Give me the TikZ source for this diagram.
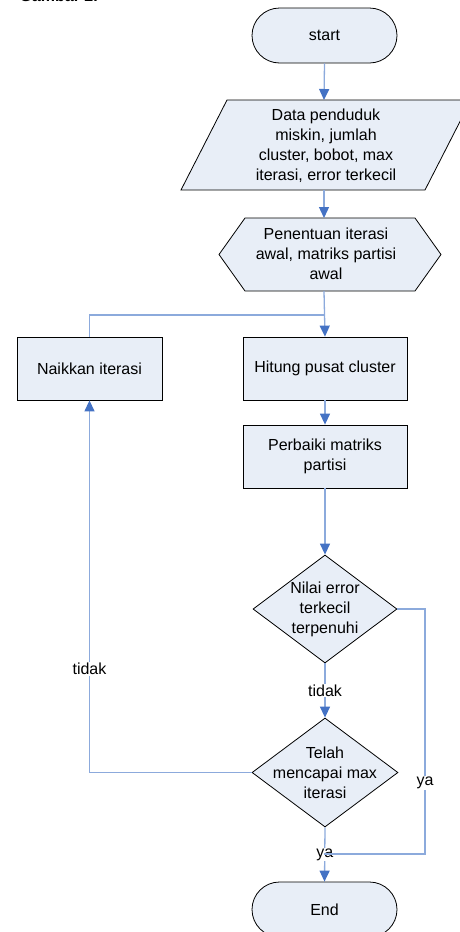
\documentclass[tikz,border=0pt]{standalone}
\usepackage{fontspec}
\setmainfont{Liberation Sans}
\usetikzlibrary{arrows.meta,shapes.misc,shapes.geometric}
\definecolor{boxfill}{RGB}{232,238,247}
\definecolor{lineblue}{RGB}{140,170,220}
\definecolor{tipblue}{RGB}{68,114,196}
\tikzset{
  txt/.style={font=\fontsize{16pt}{20pt}\selectfont, align=center, inner sep=0pt},
  term/.style={rounded rectangle, draw=black, fill=boxfill, line width=0.8pt, minimum width=145pt, minimum height=55pt, txt},
  proc/.style={rectangle, draw=black, fill=boxfill, line width=0.8pt, minimum height=63pt, txt},
  dia/.style={diamond, draw=black, fill=boxfill, line width=0.8pt, inner sep=0pt},
  shapeline/.style={draw=black, fill=boxfill, line width=0.8pt, line join=miter},
  conn/.style={draw=lineblue, line width=1.3pt},
  arr/.style={conn, -{Triangle[width=10pt,length=11pt,color=tipblue]}},
  lab/.style={txt, fill=white, inner sep=1pt}
}
\begin{document}
\begin{tikzpicture}[x=1pt,y=-1pt]
\useasboundingbox (0,0) rectangle (459,932);
% clipped caption fragment at the top edge
\node[anchor=base east, font=\bfseries\fontsize{16pt}{20pt}\selectfont, inner sep=0pt] (cap) at (98,1.5) {Gambar 2.};
% start
\node[term] (start) at (324.5,35.5) {start};
% data parallelogram
\draw[shapeline] (181,190) -- (227,100) -- (471,100) -- (425,190) -- cycle;
\node[txt] (data) at (326,146) {Data penduduk\\miskin, jumlah\\cluster, bobot, max\\iterasi, error terkecil};
\coordinate (datatop) at (324,100);
\coordinate (databot) at (324,190);
% hexagon
\draw[shapeline] (219,254.5) -- (245,218) -- (415,218) -- (441,254.5) -- (415,291) -- (245,291) -- cycle;
\node[txt] (init) at (326,254) {Penentuan iterasi\\awal, matriks partisi\\awal};
\coordinate (inittop) at (324,218);
\coordinate (initbot) at (324,291);
% process boxes
\node[proc, minimum width=145pt] (naik) at (89.5,368.5) {Naikkan iterasi};
\node[proc, minimum width=164pt] (hitung) at (325,368.5) {Hitung pusat cluster};
\node[proc, minimum width=164pt] (perbaiki) at (325,456.5) {Perbaiki matriks\\partisi};
% decisions
\node[dia, minimum width=144pt, minimum height=108pt] (d1) at (325,609) {};
\node[txt] (d1t) at (d1) {Nilai error\\terkecil\\terpenuhi};
\node[dia, minimum width=146pt, minimum height=109pt] (d2) at (325,772.5) {};
\node[txt] (d2t) at (d2) {Telah\\mencapai max\\iterasi};
% end
\node[term] (end) at (324.5,909.5) {End};
% junction coordinates
\coordinate (join) at (324,315);
\coordinate (yaR) at (425,854);
\coordinate (yaL) at (324,854);
% connectors
\draw[arr] (start.south) -- (datatop);
\draw[arr] (databot) -- (inittop);
\draw[arr] (initbot) -- (hitung.north);
\draw[conn] (naik.north) |- (join);
\draw[arr] (hitung.south) -- (perbaiki.north);
\draw[arr] (perbaiki.south) -- (d1.north);
\draw[arr] (d1.south) -- node[lab, pos=0.5] (t1) {tidak} (d2.north);
\draw[arr] (d2.west) -| node[lab, pos=0.639] (t2) {tidak} (naik.south);
\draw[arr] (d2.south) -- node[lab, pos=0.5] (y2) {ya} (end.north);
\draw[conn] (d1.east) -| node[lab, pos=0.855] (y1) {ya} (yaR) -- (yaL);
\end{tikzpicture}
\end{document}
